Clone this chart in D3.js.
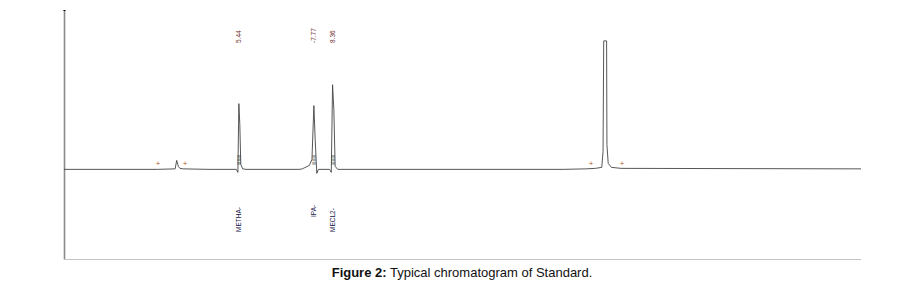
<!DOCTYPE html>
<html lang="en">
<head>
<meta charset="utf-8">
<title>Typical chromatogram of Standard</title>
<script src="https://d3js.org/d3.v7.min.js"></script>
<style>
  body { margin: 0; background: #fff; }
  text { font-family: "Liberation Sans", Arial, sans-serif; }
</style>
</head>
<body>
<script>
// window size
var w = 899, h = 289;

// trace: retention time (min) and detector signal
var traceTime   = [0, 2.9, 3.45, 3.5, 3.55, 3.6, 3.7, 4.5, 5.35, 5.40, 5.43, 5.46, 5.49, 5.55, 5.65,
                   7.3, 7.4, 7.62, 7.70, 7.76, 7.80, 7.85, 7.9, 8.25, 8.30, 8.34, 8.38, 8.42, 8.5,
                   15.5, 16.2, 16.5, 16.7, 16.74, 16.76, 16.85, 16.86, 16.9, 17.0, 17.3, 24.75];
var traceSignal = [0, 0, 0.5, 9, 3, 1, 0.5, 0, 0, -3, 66, 45, 5, 0.5, 0,
                   0, 0.5, 4, 10, 64, 30, -4, 0, 0, -3, 85, 60, 3, 0,
                   0, 0.5, 1, 2, 18, 129, 129, 25, 6, 2, 1, 0.5];

// named peaks
var peakNames = ["METHA", "IPA", "MECL2"];
var peakTimes = [5.44, 7.77, 8.36];

// unnamed event marks
var markTimes = [2.92, 3.76, 16.37, 17.33];

// scales
var xScale = d3.scaleLinear().domain([0, 24.75]).range([64, 861]);
var yScale = d3.scaleLinear().domain([-90, 160]).range([259, 10]);

var svg = d3.select("body").append("svg")
  .attr("width", w)
  .attr("height", h);

// frame: left axis and bottom line
svg.append("line")
  .attr("x1", 64.5).attr("x2", 64.5)
  .attr("y1", 10).attr("y2", 259.5)
  .attr("stroke", "#8a8a8a").attr("stroke-width", 1.6);
svg.append("line")
  .attr("x1", 63.5).attr("x2", 65.5)
  .attr("y1", 10.5).attr("y2", 10.5)
  .attr("stroke", "#000");
svg.append("line")
  .attr("x1", 65).attr("x2", 861)
  .attr("y1", 259.5).attr("y2", 259.5)
  .attr("stroke", "#c4c4c4").attr("stroke-width", 1);

// chromatogram line
var traceData = traceTime.map(function(t, i){ return [t, traceSignal[i]]; });
var line = d3.line()
  .x(function(d){ return xScale(d[0]); })
  .y(function(d){ return yScale(d[1]); });

svg.append("path")
  .datum(traceData)
  .attr("d", line)
  .attr("fill", "none")
  .attr("stroke", "#444")
  .attr("stroke-width", 0.9);

// retention time labels above (read bottom to top)
svg.selectAll("text.rt")
  .data(peakTimes)
  .enter()
  .append("text")
  .attr("class", "rt")
  .attr("transform", function(d){ return "translate(" + (xScale(d) + 2) + ",43) rotate(-90)"; })
  .attr("font-size", 6.5)
  .attr("fill", "#6e2f2a")
  .text(function(d, i){ return (i == 1 ? "-" : "") + d.toFixed(2); });

// peak names below
svg.selectAll("text.nm")
  .data(peakNames)
  .enter()
  .append("text")
  .attr("class", "nm")
  .attr("transform", function(d, i){ return "translate(" + (xScale(peakTimes[i]) + 2) + "," + (i == 1 ? 217 : 232) + ") rotate(-90)"; })
  .attr("font-size", 6.5)
  .attr("fill", "#15154a")
  .text(function(d){ return d + "-"; });

// integration ticks near baseline at the named peaks
svg.selectAll("text.tk")
  .data(peakTimes)
  .enter()
  .append("text")
  .attr("class", "tk")
  .attr("transform", function(d){ return "translate(" + (xScale(d) + 2) + ",165) rotate(-90)"; })
  .attr("font-size", 6)
  .attr("fill", "#333")
  .text("≡≡≡");

// small event marks
svg.selectAll("text.mk")
  .data(markTimes)
  .enter()
  .append("text")
  .attr("class", "mk")
  .attr("x", function(d){ return xScale(d); })
  .attr("y", 166)
  .attr("text-anchor", "middle")
  .attr("font-size", 8)
  .attr("fill", "#b0602c")
  .text("+");

// caption
var cap = svg.append("text")
  .attr("x", 462)
  .attr("y", 277)
  .attr("text-anchor", "middle")
  .attr("font-size", 13)
  .attr("fill", "#111");
cap.append("tspan").attr("font-weight", "bold").text("Figure 2:");
cap.append("tspan").text(" Typical chromatogram of Standard.");
</script>
</body>
</html>
